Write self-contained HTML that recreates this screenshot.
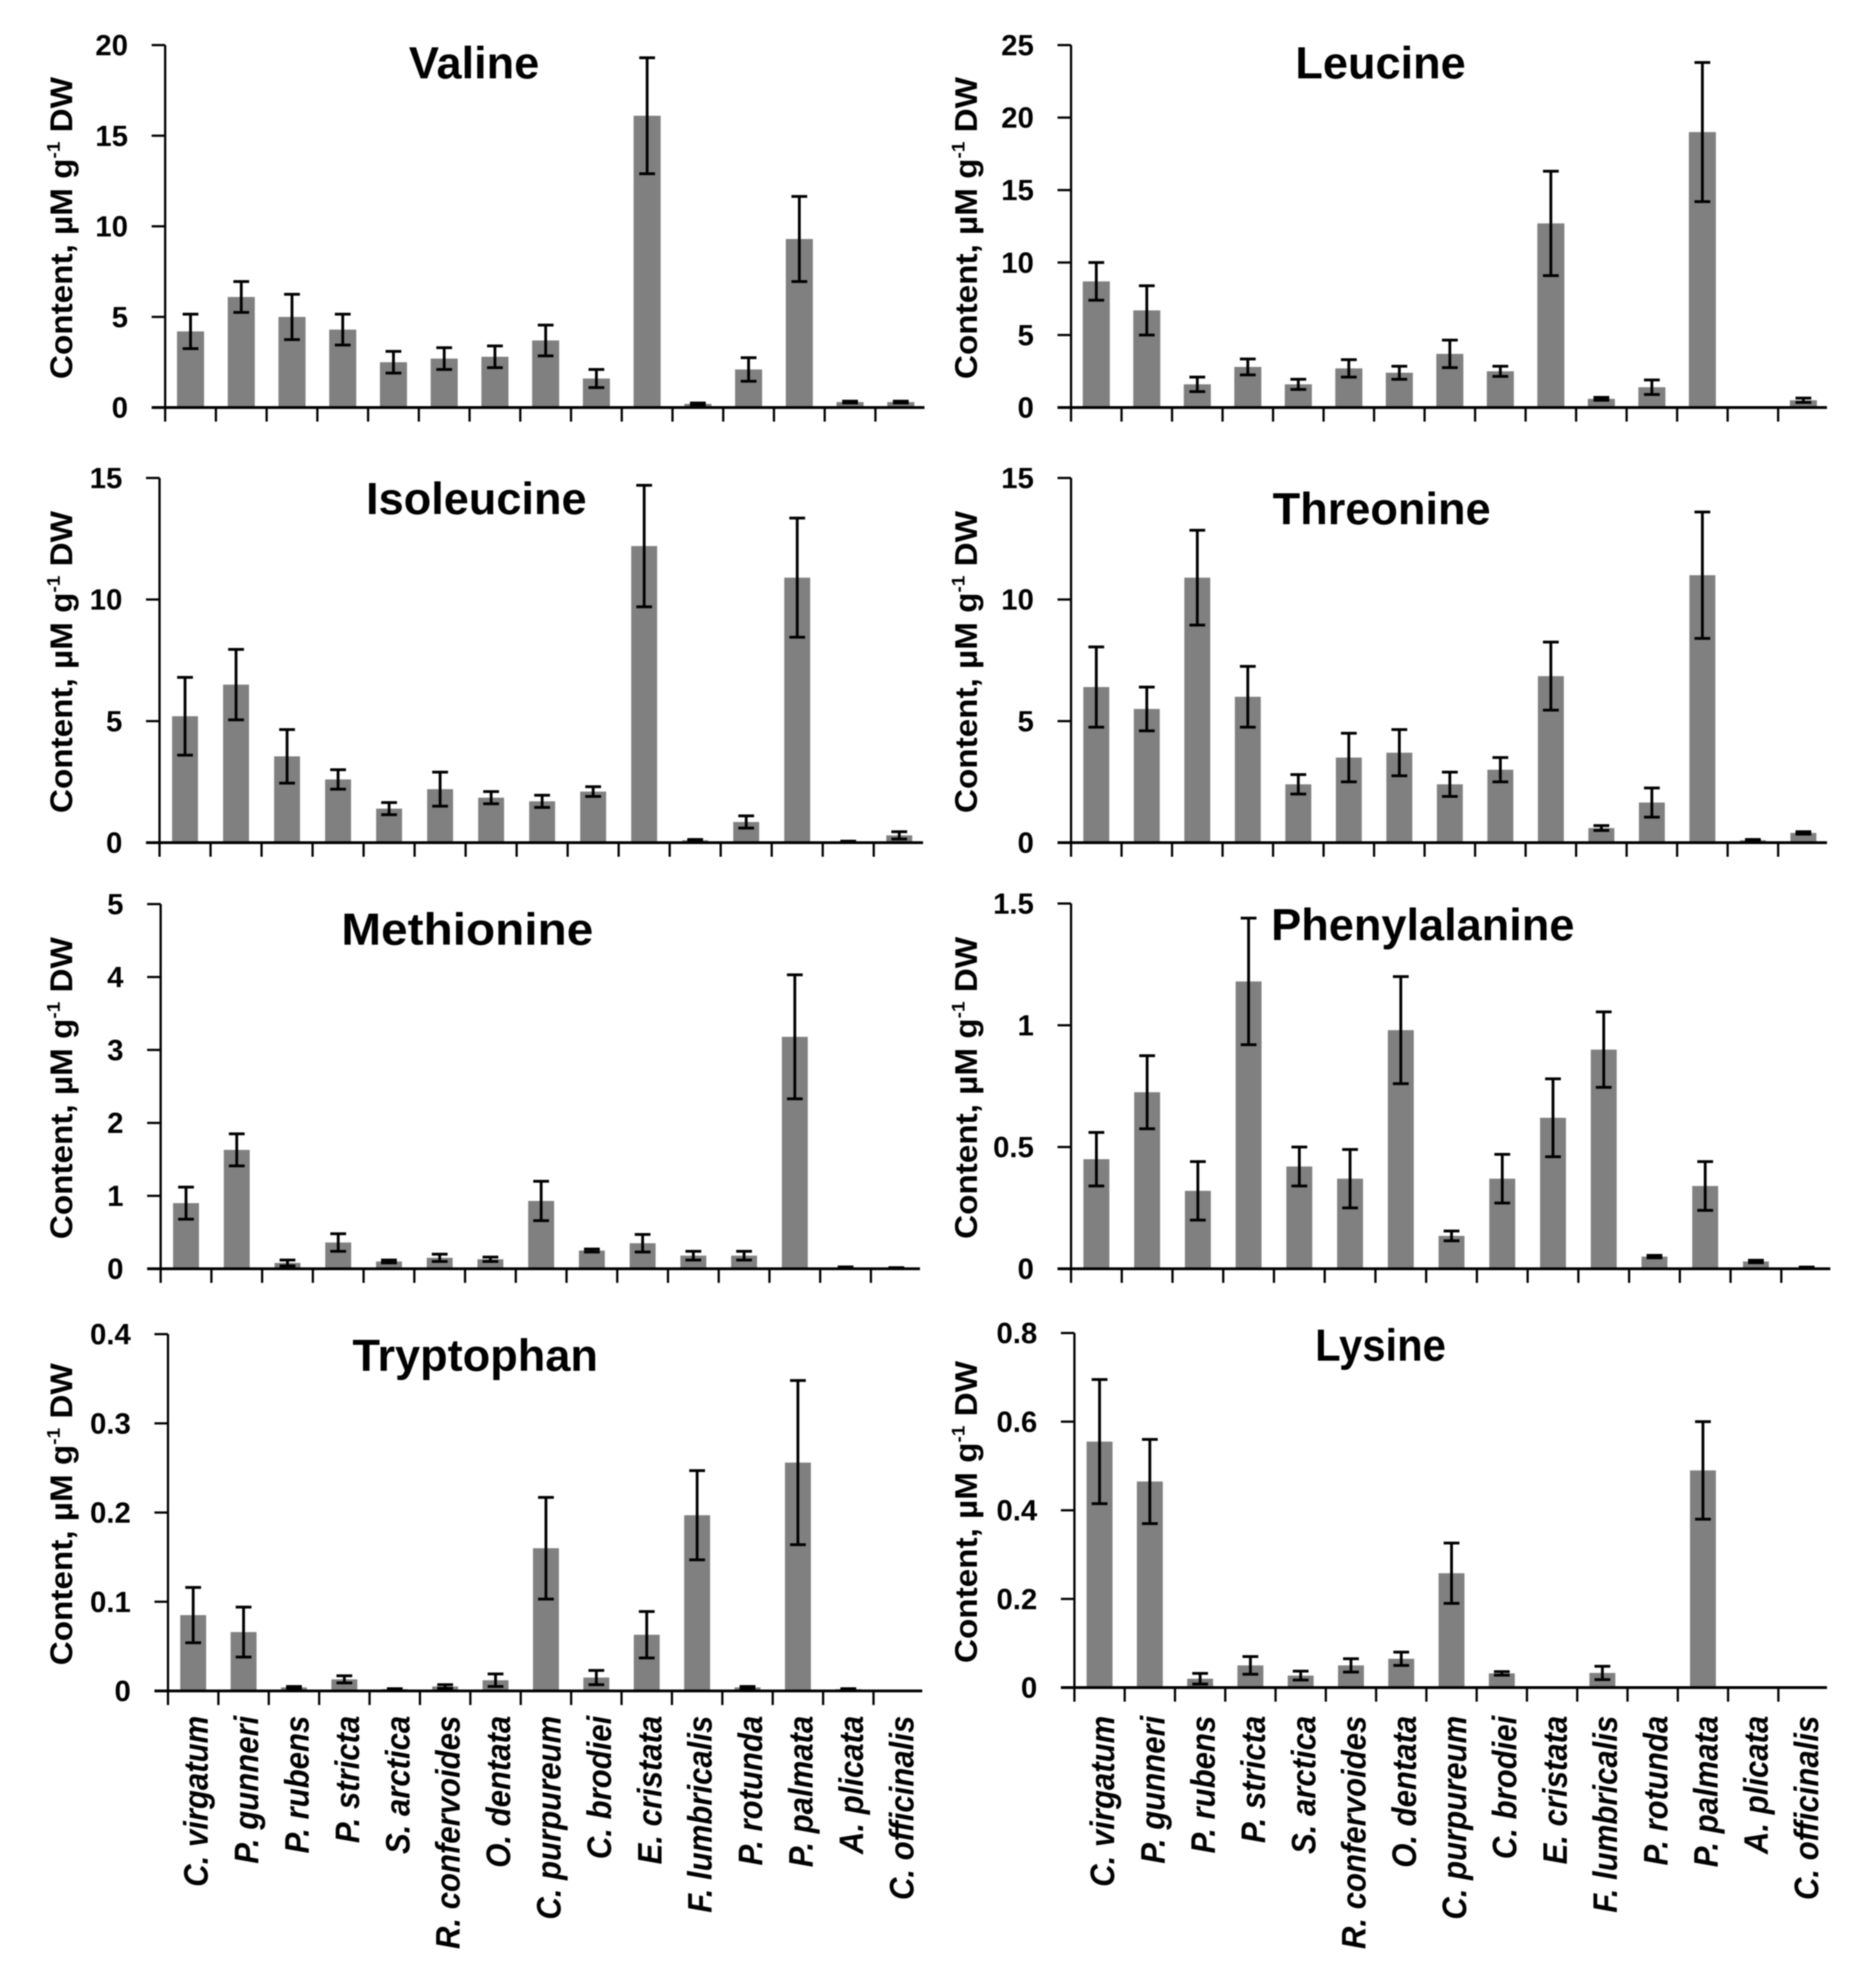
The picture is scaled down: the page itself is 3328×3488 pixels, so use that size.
<!DOCTYPE html>
<html>
<head>
<meta charset="utf-8">
<title>Amino acid content by species</title>
<style>
html,body{margin:0;padding:0;background:#fff;}
svg{display:block;filter:blur(1px);}
text{font-family:"Liberation Sans",sans-serif;font-weight:bold;fill:#000;}
</style>
</head>
<body>
<svg id="figure" xmlns="http://www.w3.org/2000/svg" width="3328" height="3488" viewBox="0 0 3328 3488"></svg>
<script>
const categories = ["C. virgatum","P. gunneri","P. rubens","P. stricta","S. arctica","R. confervoides","O. dentata","C. purpureum","C. brodiei","E. cristata","F. lumbricalis","P. rotunda","P. palmata","A. plicata","C. officinalis"];

const valineValues = [4.2,6.1,5.0,4.3,2.5,2.7,2.8,3.7,1.6,16.1,0.2,2.1,9.3,0.3,0.3];
const valineErrors = [0.95,0.85,1.25,0.85,0.6,0.6,0.6,0.85,0.5,3.2,0.05,0.65,2.35,0.05,0.05];
const valineTicks = ["0","5","10","15","20"];

const leucineValues = [8.7,6.7,1.6,2.8,1.6,2.7,2.4,3.7,2.5,12.7,0.6,1.4,19.0,0,0.5];
const leucineErrors = [1.3,1.7,0.5,0.55,0.35,0.6,0.45,0.95,0.35,3.6,0.1,0.5,4.8,0,0.15];
const leucineTicks = ["0","5","10","15","20","25"];

const isoleucineValues = [5.2,6.5,3.55,2.6,1.4,2.2,1.85,1.7,2.1,12.2,0.1,0.85,10.9,0.05,0.3];
const isoleucineErrors = [1.6,1.45,1.1,0.4,0.25,0.7,0.25,0.25,0.2,2.5,0.03,0.25,2.45,0.01,0.15];
const isoleucineTicks = ["0","5","10","15"];

const threonineValues = [6.4,5.5,10.9,6.0,2.4,3.5,3.7,2.4,3.0,6.85,0.6,1.65,11.0,0.1,0.4];
const threonineErrors = [1.65,0.9,1.95,1.25,0.4,1.0,0.95,0.5,0.5,1.4,0.1,0.6,2.6,0.03,0.05];
const threonineTicks = ["0","5","10","15"];

const methionineValues = [0.9,1.63,0.08,0.36,0.1,0.15,0.13,0.93,0.25,0.35,0.18,0.18,3.18,0.02,0.01];
const methionineErrors = [0.22,0.22,0.04,0.12,0.02,0.05,0.03,0.27,0.02,0.12,0.06,0.06,0.85,0.005,0.005];
const methionineTicks = ["0","1","2","3","4","5"];

const phenylalanineValues = [0.45,0.725,0.32,1.18,0.42,0.37,0.98,0.135,0.37,0.62,0.9,0.05,0.34,0.03,0.005];
const phenylalanineErrors = [0.11,0.15,0.12,0.26,0.08,0.12,0.22,0.02,0.1,0.16,0.155,0.005,0.1,0.005,0.002];
const phenylalanineTicks = ["0","0.5","1","1.5"];

const tryptophanValues = [0.085,0.066,0.004,0.013,0.002,0.005,0.012,0.16,0.015,0.063,0.197,0.004,0.256,0.002,0];
const tryptophanErrors = [0.031,0.028,0.001,0.004,0.0005,0.002,0.007,0.057,0.008,0.026,0.05,0.001,0.092,0.0005,0];
const tryptophanTicks = ["0","0.1","0.2","0.3","0.4"];

const lysineValues = [0.555,0.465,0.02,0.05,0.027,0.05,0.065,0.258,0.032,0,0.033,0,0.49,0,0];
const lysineErrors = [0.14,0.095,0.012,0.02,0.01,0.015,0.015,0.068,0.004,0,0.015,0,0.11,0,0];
const lysineTicks = ["0","0.2","0.4","0.6","0.8"];

const SVG_NS = "http://www.w3.org/2000/svg";
const figure = document.getElementById("figure");

function make(tag, parent, attrs) {
  const el = document.createElementNS(SVG_NS, tag);
  for (const k in attrs) el.setAttribute(k, attrs[k]);
  parent.appendChild(el);
  return el;
}

function drawPanel(cfg) {
  const slug = cfg.title.toLowerCase();
  const group = make("g", figure, {});
  
  

  const yMax = parseFloat(cfg.ticks[cfg.ticks.length - 1]);
  const yScale = v => cfg.bottom - (v / yMax) * (cfg.bottom - cfg.top);
  const xBand = i => cfg.left + i * cfg.step;
  const xCenter = i => xBand(i) + cfg.step / 2;
  const right = xBand(categories.length) - 3;

  // bars
  cfg.values.forEach((v, i) => {
    const bar = make("rect", group, {
      x: xCenter(i) - cfg.barWidth / 2,
      y: yScale(v),
      width: cfg.barWidth,
      height: cfg.bottom - yScale(v),
      fill: "#808080"
    });
    
    
  });

  // error bars
  cfg.errors.forEach((e, i) => {
    if (e <= 0) return;
    const v = cfg.values[i];
    const x = xCenter(i);
    const err = make("path", group, {
      d: "M" + x + " " + yScale(v + e) + "V" + yScale(v - e) +
         "M" + (x - 14) + " " + yScale(v + e) + "h28" +
         "M" + (x - 14) + " " + yScale(v - e) + "h28",
      stroke: "#000",
      "stroke-width": 5,
      fill: "none"
    });
    
    
  });

  // y axis line
  const yAxis = make("line", group, {x1: cfg.left, x2: cfg.left, y1: cfg.top, y2: cfg.bottom, stroke: "#000", "stroke-width": 4});
  
  

  // x axis line
  const xAxis = make("line", group, {x1: cfg.left - 24, x2: right, y1: cfg.bottom, y2: cfg.bottom, stroke: "#000", "stroke-width": 5});
  
  

  // y ticks and labels
  cfg.ticks.forEach(t => {
    const y = yScale(parseFloat(t));
    const tick = make("line", group, {x1: cfg.left - 24, x2: cfg.left, y1: y, y2: y, stroke: "#000", "stroke-width": 4});
    
    
    const label = make("text", group, {x: cfg.left - 66, y: y + 18, "text-anchor": "end", "font-size": 52});
    
    
    label.textContent = t;
  });

  // x ticks
  for (let i = 0; i < categories.length; i++) {
    const tick = make("line", group, {x1: xBand(i), x2: xBand(i), y1: cfg.bottom, y2: cfg.bottom + 25, stroke: "#000", "stroke-width": 4});
    
    
  }

  // chart title
  const title = make("text", group, {x: cfg.titleX, y: cfg.titleY, "text-anchor": "middle", "font-size": 80});
  if (cfg.titleLength) {
    title.setAttribute("textLength", cfg.titleLength);
    title.setAttribute("lengthAdjust", "spacingAndGlyphs");
  }
  
  
  title.textContent = cfg.title;

  // y axis title
  const midY = (cfg.top + cfg.bottom) / 2 + 3;
  const yTitle = make("text", group, {
    transform: "translate(" + cfg.yTitleX + " " + midY + ") rotate(-90)",
    "text-anchor": "middle",
    "font-size": 56,
    textLength: 536,
    lengthAdjust: "spacingAndGlyphs"
  });
  
  
  const part1 = make("tspan", yTitle, {});
  part1.textContent = "Content, µM g";
  const part2 = make("tspan", yTitle, {"font-size": 32, dy: -22});
  part2.textContent = "-1";
  const part3 = make("tspan", yTitle, {dy: 22});
  part3.textContent = " DW";

  // category labels
  if (cfg.showCategories) {
    categories.forEach((c, i) => {
      const x = xCenter(i) + 26;
      const label = make("text", group, {
        transform: "translate(" + x + " " + cfg.labelTop + ") rotate(-90) scale(0.92 1)",
        "text-anchor": "end",
        "font-size": 60,
        "font-style": "italic"
      });
      
      
      label.textContent = c;
    });
  }
}

drawPanel({title:"Valine", values:valineValues, errors:valineErrors, ticks:valineTicks, left:293, top:80, bottom:723, step:90, barWidth:48, titleX:841, titleY:139, yTitleX:128});
drawPanel({title:"Leucine", values:leucineValues, errors:leucineErrors, ticks:leucineTicks, left:1900, top:80, bottom:723, step:89.6, barWidth:48, titleX:2449, titleY:139, yTitleX:1733});
drawPanel({title:"Isoleucine", values:isoleucineValues, errors:isoleucineErrors, ticks:isoleucineTicks, left:283, top:848, bottom:1495, step:90.5, barWidth:46, titleX:845, titleY:912, yTitleX:128});
drawPanel({title:"Threonine", values:threonineValues, errors:threonineErrors, ticks:threonineTicks, left:1900, top:848, bottom:1495, step:89.6, barWidth:46, titleX:2451, titleY:930, yTitleX:1733});
drawPanel({title:"Methionine", values:methionineValues, errors:methionineErrors, ticks:methionineTicks, left:285, top:1604, bottom:2251, step:90, barWidth:46, titleX:829, titleY:1676, titleLength:447, yTitleX:128});
drawPanel({title:"Phenylalanine", values:phenylalanineValues, errors:phenylalanineErrors, ticks:phenylalanineTicks, left:1900, top:1603, bottom:2251, step:90, barWidth:46, titleX:2524, titleY:1668, yTitleX:1733});
drawPanel({title:"Tryptophan", values:tryptophanValues, errors:tryptophanErrors, ticks:tryptophanTicks, left:298, top:2367, bottom:3000, step:89.4, barWidth:46, titleX:843, titleY:2432, yTitleX:128, showCategories:true, labelTop:3044});
drawPanel({title:"Lysine", values:lysineValues, errors:lysineErrors, ticks:lysineTicks, left:1906, top:2365, bottom:2994, step:89.2, barWidth:46, titleX:2449, titleY:2414, titleLength:232, yTitleX:1733, showCategories:true, labelTop:3044});
</script>
</body>
</html>
